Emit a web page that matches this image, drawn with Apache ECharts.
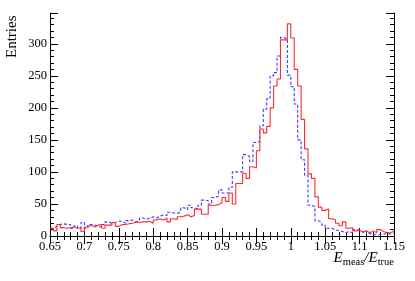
<!DOCTYPE html>
<html>
<head>
<meta charset="utf-8">
<script src="https://cdn.jsdelivr.net/npm/echarts@6/dist/echarts.min.js"></script>
<style>
html,body{margin:0;padding:0;background:#fff;}
#c{width:415px;height:281px;}
</style>
</head>
<body>
<div id="c"></div>
<script>
// Bin low edges: 0.65 .. 1.145, width 0.005 (100 bins)
const binStart = 0.65;
const binWidth = 0.005;
const redCounts = [
 12, 8, 18, 13, 12, 13, 14, 12, 13, 7,
 14, 17, 14, 17, 18, 12, 17, 17, 21, 15,
 18, 18, 19, 20, 22, 21, 22, 22, 23, 20,
 25, 27, 25, 28, 22, 27, 26, 30, 31, 33,
 30, 32, 42, 42, 34, 34, 48, 48, 49, 52,
 60, 54, 67, 50, 82, 82, 98, 90, 108, 106,
 133, 167, 161, 171, 200, 234, 245, 306, 306, 331,
 309, 260, 234, 182, 136, 97, 90, 61, 45, 40,
 42, 27, 25, 20, 16, 22, 12, 13, 8, 9,
 6, 8, 5, 8, 5, 10, 7, 5, 5, 8
];
const blueCounts = [
 12, 15, 18, 19, 18, 18, 12, 16, 12, 21,
 12, 18, 17, 15, 14, 18, 22, 20, 21, 23,
 23, 20, 24, 25, 22, 24, 28, 26, 28, 30,
 28, 31, 33, 32, 37, 36, 35, 38, 44, 41,
 48, 44, 42, 48, 56, 55, 50, 60, 62, 72,
 67, 67, 76, 100, 100, 100, 127, 124, 116, 146,
 147, 172, 198, 214, 250, 255, 281, 310, 307, 251,
 233, 206, 150, 119, 95, 48, 46, 24, 21, 17,
 12, 12, 9, 9, 7, 5, 7, 5, 10, 9,
 6, 8, 4, 2, 2, 2, 3, 4, 3, 5
];
const xTickLabels = ['0.65','0.7','0.75','0.8','0.85','0.9','0.95','1','1.05','1.1','1.15'];
const yTickLabels = ['0','50','100','150','200','250','300'];

function toSteps(counts){
  const d = counts.map((v,i)=>[+(binStart + i*binWidth).toFixed(3), v]);
  d.push([+(binStart + counts.length*binWidth).toFixed(3), counts[counts.length-1]]);
  return d;
}

const font = 'Liberation Serif';
const chart = echarts.init(document.getElementById('c'), null, {renderer:'canvas'});
const axisCommon = {
  axisLine:{show:true,lineStyle:{color:'#000',width:1}},
  splitLine:{show:false}
};
const xBase = {
  type:'value', min:0.65, max:1.15, interval:0.05,
  ...axisCommon,
  axisTick:{show:true,inside:true,length:8,lineStyle:{color:'#000'}},
  minorTick:{show:true,splitNumber:5,length:4,lineStyle:{color:'#000'}},
  minorSplitLine:{show:false}
};
const yBase = {
  type:'value', min:0, max:348, interval:50,
  ...axisCommon,
  axisTick:{show:true,inside:true,length:8,lineStyle:{color:'#000'}},
  minorTick:{show:true,splitNumber:5,length:4,lineStyle:{color:'#000'}},
  minorSplitLine:{show:false}
};
chart.setOption({
  animation:false,
  grid:{left:50,right:21,top:13,bottom:45,containLabel:false},
  xAxis:[
    {...xBase, position:'bottom',
      axisLabel:{show:true,margin:4,color:'#000',fontFamily:font,fontSize:12.5,
        showMinLabel:true,showMaxLabel:true,
        formatter:(v)=>{const i=Math.round((v-0.65)/0.05);return xTickLabels[i]!==undefined?xTickLabels[i]:'';}}
    },
    {...xBase, position:'top', axisLabel:{show:false}}
  ],
  yAxis:[
    {...yBase, position:'left',
      axisLabel:{show:true,margin:3,color:'#000',fontFamily:font,fontSize:12.5,showMaxLabel:false,
        formatter:(v)=>{const i=Math.round(v/50);return (Math.abs(v-i*50)<1e-6 && yTickLabels[i]!==undefined)?yTickLabels[i]:'';}}
    },
    {...yBase, position:'right', axisLabel:{show:false}}
  ],
  series:[
    {type:'line', name:'blue', step:'end', data:toSteps(blueCounts), showSymbol:false, symbol:'none',
      lineStyle:{color:'#3a3aff',width:1.1,type:[3,2]}, z:2},
    {type:'line', name:'red', step:'end', data:toSteps(redCounts), showSymbol:false, symbol:'none',
      lineStyle:{color:'#ff2a2a',width:1.1}, z:3}
  ],
  graphic:[
    {type:'text', rotation:Math.PI/2, style:{text:'Entries', font:'15px "Liberation Serif"', fill:'#000'},
     x:5, y:58},
    {type:'text', right:21, top:251,
     style:{text:'{i|E}{s|meas}{i|/E}{s|true}', fill:'#000',
       rich:{i:{fontFamily:font,fontStyle:'italic',fontSize:15,lineHeight:18},
             s:{fontFamily:font,fontSize:10.5,lineHeight:10,verticalAlign:'bottom'}}}}
  ]
});
</script>
</body>
</html>
